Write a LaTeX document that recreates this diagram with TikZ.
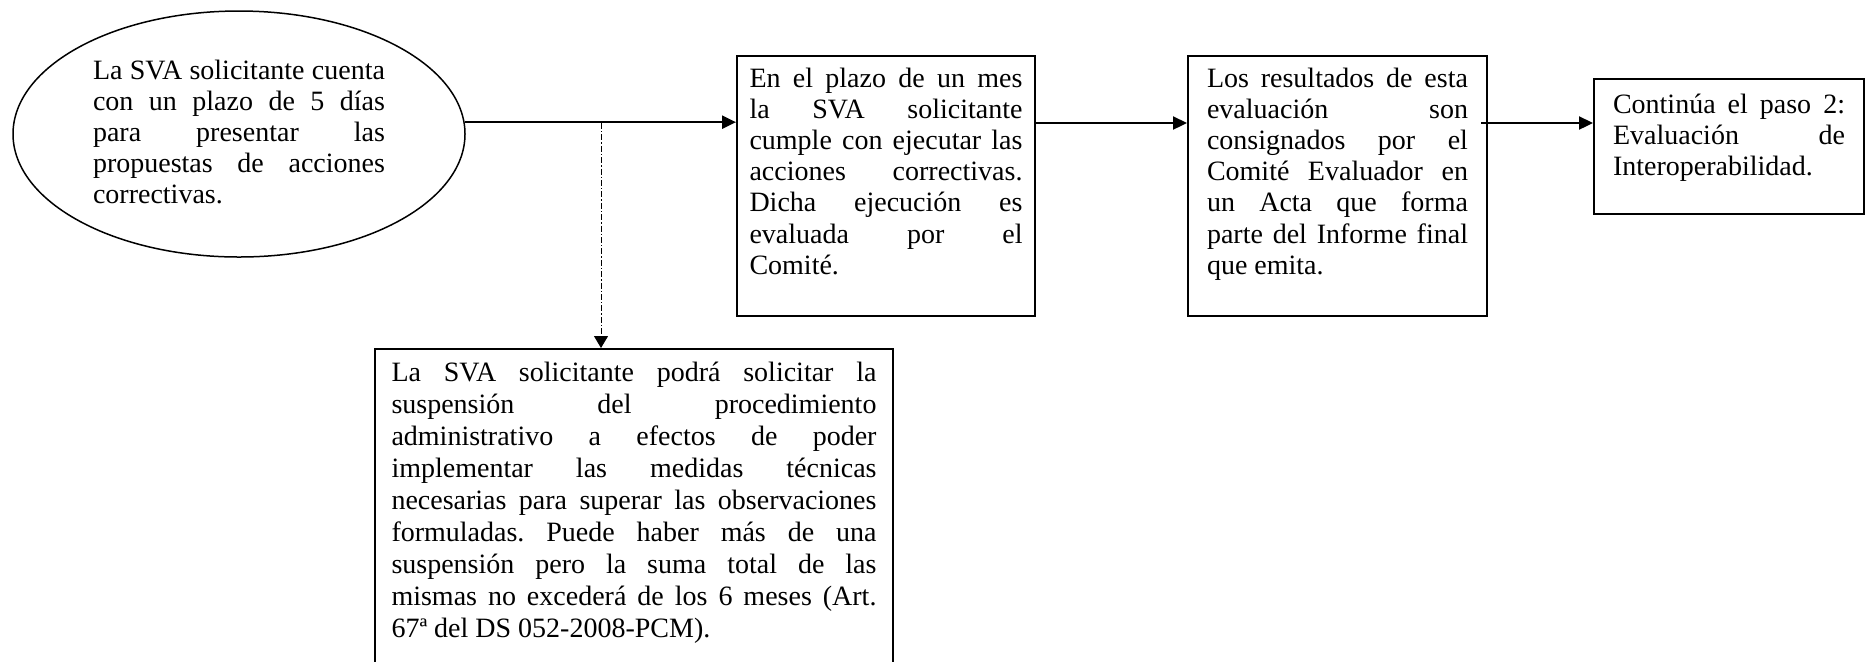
\documentclass[tikz,border=0pt]{standalone}
\usepackage{fontspec}
\setmainfont{Liberation Serif}
\usetikzlibrary{arrows.meta,shapes.geometric}
\frenchspacing
\newcommand\jl[1]{\makebox[\linewidth][s]{\rule{0pt}{11pt}#1}\\}
\newcommand\lastln[1]{\rule{0pt}{11pt}#1}
\newcommand\bxt[3]{\parbox[t][#2][t]{#1}{#3}}
\begin{document}
\begin{tikzpicture}[x=0.5pt,y=-0.5pt,
  txt/.style={font=\fontsize{14pt}{15.6pt}\selectfont},
  stepbox/.style={txt, draw, line width=1pt, rectangle, anchor=north west, inner sep=0pt},
  oval/.style={txt, draw, ellipse, line width=0.75pt, inner sep=0pt, minimum width=226pt, minimum height=123pt},
  arr/.style={line width=1.1pt, -{Triangle[length=7pt,width=6.5pt]}},
  darr/.style={line width=0.5pt, dash pattern=on 3pt off 1pt on 0.7pt off 1pt, -{Triangle[length=6pt,width=7pt]}}]
\useasboundingbox (0,0) rectangle (1871,661);

\node[oval] (e1) at (239,134) {\parbox{146pt}{%
\jl{La SVA solicitante cuenta}%
\jl{con un plazo de 5 días}%
\jl{para presentar las}%
\jl{propuestas de acciones}%
\rule[-3.5pt]{0pt}{14.5pt}correctivas.}};

\node[stepbox, inner xsep=6.25pt, inner ysep=4.5pt] (b2) at (736,55) {\bxt{136.5pt}{121pt}{%
\jl{En el plazo de un mes}%
\jl{la SVA solicitante}%
\jl{cumple con ejecutar las}%
\jl{acciones correctivas.}%
\jl{Dicha ejecución es}%
\jl{evaluada por el}%
\lastln{Comité.}}};

\node[stepbox, inner xsep=9.5pt, inner ysep=4.5pt] (b3) at (1187,55) {\bxt{130.5pt}{121pt}{%
\jl{Los resultados de esta}%
\jl{evaluación son}%
\jl{consignados por el}%
\jl{Comité Evaluador en}%
\jl{un Acta que forma}%
\jl{parte del Informe final}%
\lastln{que emita.}}};

\node[stepbox, inner xsep=9.5pt, inner ysep=6pt] (b5) at (1593,78) {\bxt{116pt}{55.5pt}{%
\jl{Continúa el paso 2:}%
\jl{Evaluación de}%
\lastln{Interoperabilidad.}}};

\node[stepbox, inner xsep=8.25pt, inner ysep=5pt, font=\fontsize{14pt}{16pt}\selectfont] (b4) at (374,348) {\bxt{242.5pt}{147.5pt}{%
\jl{La SVA solicitante podrá solicitar la}%
\jl{suspensión del procedimiento}%
\jl{administrativo a efectos de poder}%
\jl{implementar las medidas técnicas}%
\jl{necesarias para superar las observaciones}%
\jl{formuladas. Puede haber más de una}%
\jl{suspensión pero la suma total de las}%
\jl{mismas no excederá de los 6 meses (Art.}%
\lastln{67ª del DS 052-2008-PCM).}}};

\coordinate (j) at (601,123);
\draw[arr] (e1.3) -- (b2.west |- e1.3);
\draw[darr] (j) -- (j |- b4.north);
\draw[arr] (b2.east |- j) -- (b3.west |- j);
\draw[arr] ([xshift=-3.5pt]b3.east |- j) -- (b5.west |- j);
\end{tikzpicture}
\end{document}
